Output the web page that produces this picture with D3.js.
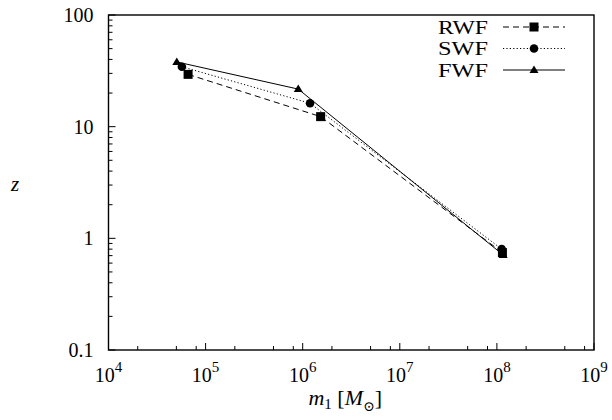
<!DOCTYPE html>
<html><head><meta charset="utf-8">
<script src="https://cdn.jsdelivr.net/npm/d3@7"></script>
<style>body{margin:0;background:#fff}svg{display:block}</style>
</head><body>
<svg id="c" width="612" height="420" font-family="'Liberation Serif', 'Times New Roman', 'DejaVu Serif', serif"></svg>
<script>
const seriesNames = ["RWF", "SWF", "FWF"];
const rwfMass = [6.6e4, 1.53e6, 1.14e8];
const rwfZ = [29.4, 12.3, 0.745];
const swfMass = [5.7e4, 1.19e6, 1.12e8];
const swfZ = [34.4, 16.2, 0.80];
const fwfMass = [5.05e4, 9.0e5, 1.16e8];
const fwfZ = [38.0, 21.7, 0.71];
const xTickExps = [4, 5, 6, 7, 8, 9];
const yTickLabels = ["0.1", "1", "10", "100"];
const yTickValues = [0.1, 1, 10, 100];

const svg = d3.select("#c");
const FONT = "'Liberation Serif', 'Times New Roman', 'DejaVu Serif', serif";
const L = 108.5, R = 594, T = 15, B = 350;
const x = d3.scaleLog().domain([1e4, 1e9]).range([L, R]);
const y = d3.scaleLog().domain([0.1, 100]).range([B, T]);

const series = [
  {name: seriesNames[0], mass: rwfMass, z: rwfZ, dash: "6,4", marker: "square"},
  {name: seriesNames[1], mass: swfMass, z: swfZ, dash: "1.2,2.2", marker: "circle"},
  {name: seriesNames[2], mass: fwfMass, z: fwfZ, dash: null, marker: "triangle"}
];

// frame
svg.append("rect").attr("x", L).attr("y", T).attr("width", R - L).attr("height", B - T)
  .attr("fill", "none").attr("stroke", "#000").attr("stroke-width", 1.4);

// y ticks
const yMinor = [];
for (let d = -1; d < 2; d++) for (let k = 2; k <= 9; k++) yMinor.push(k * Math.pow(10, d));
svg.append("g").selectAll("line").data(yMinor).join("line")
  .attr("x1", L).attr("x2", L + 4).attr("y1", d => y(d)).attr("y2", d => y(d))
  .attr("stroke", "#000").attr("stroke-width", 1);
svg.append("g").selectAll("line").data(yTickValues).join("line")
  .attr("x1", L).attr("x2", L + 7).attr("y1", d => y(d)).attr("y2", d => y(d))
  .attr("stroke", "#000").attr("stroke-width", 1);
svg.append("g").selectAll("text").data(yTickValues).join("text")
  .attr("font-family", FONT)
  .attr("x", L - 15).attr("y", d => y(d)).attr("dy", "0.35em").attr("text-anchor", "end")
  .attr("font-size", 20).text((d, i) => yTickLabels[i]);

// x ticks
const xMinor = [];
for (let e = 4; e < 9; e++) [2, 5, 8].forEach(k => xMinor.push(k * Math.pow(10, e)));
svg.append("g").selectAll("line").data(xMinor).join("line")
  .attr("x1", d => x(d)).attr("x2", d => x(d)).attr("y1", B).attr("y2", B - 4)
  .attr("stroke", "#000").attr("stroke-width", 1);
svg.append("g").selectAll("line").data(xTickExps).join("line")
  .attr("x1", d => x(Math.pow(10, d))).attr("x2", d => x(Math.pow(10, d))).attr("y1", B).attr("y2", B - 7)
  .attr("stroke", "#000").attr("stroke-width", 1);
const xl = svg.append("g").selectAll("text").data(xTickExps).join("text")
  .attr("font-family", FONT)
  .attr("x", d => x(Math.pow(10, d))).attr("y", B + 32).attr("text-anchor", "middle").attr("font-size", 20);
xl.append("tspan").text("10");
xl.append("tspan").attr("dy", -10).attr("font-size", 15).text(d => d);

// axis titles
const xt = svg.append("text").attr("font-family", FONT).attr("x", (L + R) / 2 - 6).attr("y", 405).attr("text-anchor", "middle").attr("font-size", 22);
xt.append("tspan").attr("font-style", "italic").text("m");
xt.append("tspan").attr("font-size", 15).attr("dy", 4).text("1");
xt.append("tspan").attr("dy", -4).text(" [");
xt.append("tspan").attr("font-style", "italic").text("M");
xt.append("tspan").attr("font-size", 14).attr("dy", 6).text("⊙");
xt.append("tspan").attr("dy", -6).text("]");
svg.append("text").attr("font-family", FONT).attr("x", 15).attr("y", 191).attr("text-anchor", "middle")
  .attr("font-size", 21).attr("font-style", "italic").text("z");

function drawMarker(g, type, cx, cy) {
  if (type === "square") g.append("rect").attr("x", cx - 4.5).attr("y", cy - 4.5).attr("width", 9).attr("height", 9).attr("fill", "#000");
  else if (type === "circle") g.append("circle").attr("cx", cx).attr("cy", cy).attr("r", 4.3).attr("fill", "#000");
  else g.append("path").attr("d", `M${cx},${cy - 4.5}L${cx + 4.5},${cy + 3}L${cx - 4.5},${cy + 3}Z`).attr("fill", "#000");
}

const line = d3.line().x(d => x(d[0])).y(d => y(d[1]));
series.forEach((s, i) => {
  const pts = s.mass.map((m, j) => [m, s.z[j]]);
  const g = svg.append("g");
  g.append("path").attr("d", line(pts)).attr("fill", "none").attr("stroke", "#000")
    .attr("stroke-width", 1).attr("stroke-dasharray", s.dash);
  pts.forEach(p => drawMarker(g, s.marker, x(p[0]), y(p[1])));
  // legend
  const ly = 27 + i * 21.5;
  svg.append("text").attr("font-family", FONT).attr("x", 488).attr("y", ly).attr("dy", "0.35em").attr("text-anchor", "end")
    .attr("font-size", 19).attr("textLength", 50).attr("lengthAdjust", "spacingAndGlyphs").text(s.name);
  svg.append("line").attr("x1", 503).attr("x2", 565).attr("y1", ly).attr("y2", ly)
    .attr("stroke", "#000").attr("stroke-width", 1).attr("stroke-dasharray", s.dash);
  drawMarker(svg, s.marker, 534, ly);
});
</script>
</body></html>
